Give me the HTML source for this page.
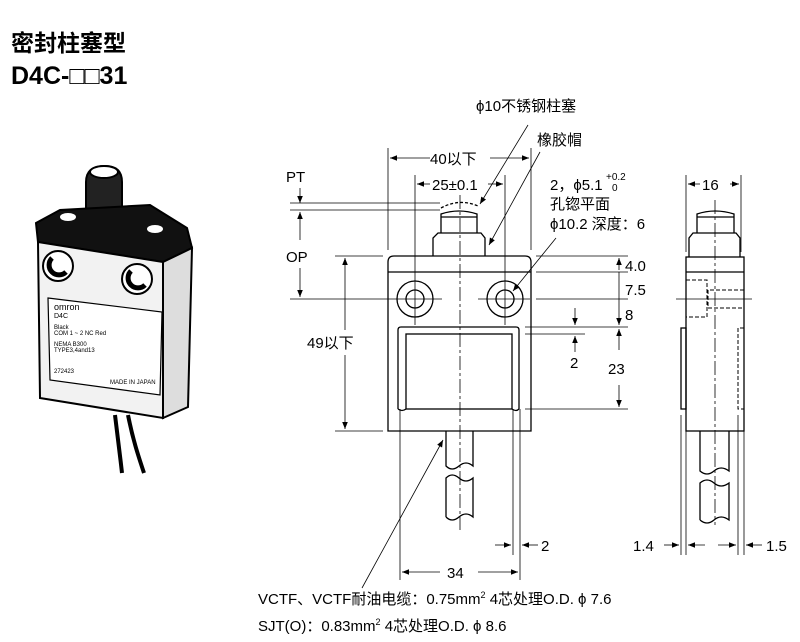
<!DOCTYPE html>
<html><head><meta charset="utf-8"><style>
html,body{margin:0;padding:0;background:#fff;}
svg{display:block;font-family:"Liberation Sans","Noto Sans CJK SC",sans-serif;}
</style></head><body>
<svg width="800" height="642" viewBox="0 0 800 642" xmlns="http://www.w3.org/2000/svg">
<defs>
<marker id="a" viewBox="0 0 10 10" refX="10" refY="5" markerWidth="9" markerHeight="7" orient="auto-start-reverse" markerUnits="userSpaceOnUse"><path d="M0,1 L10,5 L0,9 z" fill="#000"/></marker>
</defs>
<text x="11" y="51" font-size="23" font-weight="bold">密封柱塞型</text>
<text x="11" y="84" font-size="25" font-weight="bold">D4C-□□31</text>

<!-- photo -->
<g stroke="#000" stroke-width="2">
<path d="M115 415 C118 440 120 455 122 473" fill="none" stroke-width="4"/>
<path d="M128 415 C133 440 138 455 144 473" fill="none" stroke-width="4"/>
<path d="M86 182 Q86 166 105 166 Q122 166 122 182 L122 210 L86 210 Z" fill="#222"/>
<ellipse cx="104" cy="172" rx="14" ry="6" fill="#fff"/>
<path d="M36 223 L60 210 L150 205 L187 228 L192 248 L163 262 L38 242 Z" fill="#111"/>
<ellipse cx="68" cy="217" rx="8" ry="4" fill="#fff" stroke="none"/>
<ellipse cx="155" cy="229" rx="8" ry="4" fill="#fff" stroke="none"/>
<path d="M163 262 L192 248 L188 407 L163 418 Z" fill="#ddd"/>
<path d="M38 242 L163 262 L163 418 L40 398 Z" fill="#f2f2f2"/>
<circle cx="58" cy="266" r="15" fill="#fff"/><path d="M52 258 A9 9 0 1 0 66 272" fill="none" stroke-width="5"/>
<circle cx="137" cy="279" r="15" fill="#fff"/><path d="M131 271 A9 9 0 1 0 145 285" fill="none" stroke-width="5"/>
<path d="M48 298 L162 312 L160 395 L50 380 Z" fill="#fff" stroke-width="1.2"/>
</g>
<g font-size="6">
<text x="54" y="310" font-size="9">omron</text>
<text x="54" y="318" font-size="7">D4C</text>
<text x="54" y="329">Black</text>
<text x="54" y="335">COM 1 ~ 2 NC Red</text>
<text x="54" y="346">NEMA B300</text>
<text x="54" y="352">TYPE3,4and13</text>
<text x="54" y="373">272423</text>
<text x="110" y="384">MADE IN JAPAN</text>
</g>

<g stroke="#000" stroke-width="1.3" fill="none">
<path d="M388 431 L388 262 Q388 256 394 256 L525 256 Q531 256 531 262 L531 431 Z"/>
<line x1="388" y1="272" x2="531" y2="272"/>
<circle cx="415" cy="299" r="18"/><circle cx="415" cy="299" r="9"/>
<circle cx="505" cy="299" r="18"/><circle cx="505" cy="299" r="9"/>
<path d="M398 409 L398 330 Q398 327 401 327 L516 327 Q519 327 519 330 L519 409"/>
<rect x="406" y="334" width="106" height="75"/>
<path d="M398 409 Q402 412 406 409 M512 409 Q516 412 519 409"/>
<path d="M433 256 L433 238 L438 233 L481 233 L485 238 L485 256"/>
<path d="M441 233 L441 214 Q459 208 477 214 L477 233"/>
<path d="M441 217 L477 217"/>
<path d="M441 208 Q459 198 478 206" stroke-dasharray="3,2"/>
<path d="M446 431 L446 466 Q452 472 459 466 Q466 460 473 466 L473 431"/>
<path d="M446 517 L446 478 Q452 472 459 478 Q466 484 473 478 L473 517 Q466 511 459 517 Q452 523 446 517"/>
</g>
<g stroke="#000" stroke-width="0.8" fill="none">
<line x1="460" y1="195" x2="460" y2="530" stroke-dasharray="14,3,3,3"/>
<line x1="388" y1="148" x2="388" y2="250"/><line x1="531" y1="148" x2="531" y2="250"/>
<line x1="390" y1="158" x2="430" y2="158" marker-start="url(#a)"/>
<line x1="490" y1="158" x2="529" y2="158" marker-end="url(#a)"/>
<line x1="415" y1="175" x2="415" y2="325"/><line x1="505" y1="175" x2="505" y2="325"/>
<line x1="417" y1="184" x2="430" y2="184" marker-start="url(#a)"/>
<line x1="488" y1="184" x2="503" y2="184" marker-end="url(#a)"/>
<line x1="290" y1="203" x2="440" y2="203"/><line x1="290" y1="210" x2="440" y2="210"/>
<line x1="300" y1="188" x2="300" y2="203" marker-end="url(#a)"/>
<line x1="300" y1="212" x2="300" y2="240" marker-start="url(#a)"/>
<line x1="300" y1="268" x2="300" y2="297" marker-end="url(#a)"/>
<line x1="290" y1="299" x2="442" y2="299"/><line x1="478" y1="299" x2="530" y2="299"/>
<line x1="335" y1="256" x2="383" y2="256"/><line x1="335" y1="431" x2="383" y2="431"/>
<line x1="345" y1="258" x2="345" y2="330" marker-start="url(#a)"/>
<line x1="345" y1="355" x2="345" y2="429" marker-end="url(#a)"/>
<line x1="536" y1="256" x2="628" y2="256"/><line x1="536" y1="272" x2="628" y2="272"/>
<line x1="536" y1="299" x2="628" y2="299"/><line x1="525" y1="327" x2="628" y2="327"/>
<line x1="525" y1="409" x2="628" y2="409"/>
<line x1="619" y1="270" x2="619" y2="258" marker-end="url(#a)"/>
<line x1="619" y1="272" x2="619" y2="325" marker-end="url(#a)"/>
<line x1="619" y1="329" x2="619" y2="350" marker-start="url(#a)"/>
<line x1="619" y1="385" x2="619" y2="407" marker-end="url(#a)"/>
<line x1="525" y1="334" x2="585" y2="334"/>
<line x1="575" y1="308" x2="575" y2="325" marker-end="url(#a)"/>
<line x1="575" y1="352" x2="575" y2="336" marker-end="url(#a)"/>
<line x1="400" y1="409" x2="400" y2="580"/><line x1="513" y1="409" x2="513" y2="555"/><line x1="520" y1="409" x2="520" y2="580"/>
<line x1="402" y1="572" x2="440" y2="572" marker-start="url(#a)"/>
<line x1="478" y1="572" x2="518" y2="572" marker-end="url(#a)"/>
<line x1="495" y1="545" x2="511" y2="545" marker-end="url(#a)"/>
<line x1="538" y1="545" x2="522" y2="545" marker-end="url(#a)"/>
<line x1="528" y1="125" x2="480" y2="204" marker-end="url(#a)"/>
<line x1="540" y1="152" x2="489" y2="245" marker-end="url(#a)"/>
<line x1="556" y1="238" x2="513" y2="291" marker-end="url(#a)"/>
<line x1="362" y1="588" x2="443" y2="440" marker-end="url(#a)"/>
</g>

<g stroke="#000" stroke-width="1.3" fill="none">
<rect x="686" y="257" width="58" height="174"/>
<line x1="686" y1="272" x2="744" y2="272"/>
<path d="M689 257 L689 238 L693 233 L736 233 L740 238 L740 257"/>
<path d="M697 233 L697 214 Q715 208 734 214 L734 233"/>
<line x1="697" y1="217" x2="734" y2="217"/>
<rect x="681" y="328" width="5" height="81"/>
<path d="M700 431 L700 471 Q707 477 714 471 Q721 465 729 471 L729 431"/>
<path d="M700 520 L700 483 Q707 477 714 483 Q721 489 729 483 L729 520 Q721 514 714 520 Q707 526 700 520"/>
</g>
<g stroke="#000" stroke-width="1" fill="none" stroke-dasharray="4,2">
<path d="M686 280 L707 280 L707 317 L686 317"/>
<path d="M744 290 L708 290 L708 308 L744 308"/>
<path d="M744 328 L738 328 L738 409 L744 409"/>
</g>
<g stroke="#000" stroke-width="0.8" fill="none">
<line x1="715" y1="200" x2="715" y2="525" stroke-dasharray="14,3,3,3"/>
<line x1="676" y1="299" x2="752" y2="299"/>
<line x1="686" y1="175" x2="686" y2="252"/><line x1="741" y1="175" x2="741" y2="252"/>
<line x1="688" y1="184" x2="700" y2="184" marker-start="url(#a)"/>
<line x1="730" y1="184" x2="739" y2="184" marker-end="url(#a)"/>
<line x1="681" y1="415" x2="681" y2="555"/><line x1="686" y1="431" x2="686" y2="555"/>
<line x1="738" y1="415" x2="738" y2="555"/><line x1="744" y1="431" x2="744" y2="555"/>
<line x1="664" y1="545" x2="679" y2="545" marker-end="url(#a)"/>
<line x1="705" y1="545" x2="688" y2="545" marker-end="url(#a)"/>
<line x1="718" y1="545" x2="736" y2="545" marker-end="url(#a)"/>
<line x1="762" y1="545" x2="746" y2="545" marker-end="url(#a)"/>
</g>

<g font-size="15">
<text x="476" y="111">ϕ10不锈钢柱塞</text>
<text x="537" y="145">橡胶帽</text>
<text x="430" y="164">40以下</text>
<text x="432" y="190">25±0.1</text>
<text x="286" y="182">PT</text>
<text x="286" y="262">OP</text>
<text x="307" y="348">49以下</text>
<text x="550" y="190">2，ϕ5.1</text><text x="606" y="180" font-size="10">+0.2</text><text x="612" y="191" font-size="10">0</text>
<text x="550" y="209">孔锪平面</text>
<text x="550" y="229">ϕ10.2 深度：6</text>
<text x="625" y="271">4.0</text>
<text x="625" y="295">7.5</text>
<text x="625" y="320">8</text>
<text x="608" y="374">23</text>
<text x="570" y="368">2</text>
<text x="702" y="190">16</text>
<text x="447" y="578">34</text>
<text x="541" y="551">2</text>
<text x="633" y="551">1.4</text>
<text x="766" y="551">1.5</text>
<text x="258" y="604">VCTF、VCTF耐油电缆：0.75mm<tspan font-size="9" dy="-6">2</tspan><tspan dy="6"> 4芯处理O.D. ϕ 7.6</tspan></text>
<text x="258" y="631">SJT(O)：0.83mm<tspan font-size="9" dy="-6">2</tspan><tspan dy="6"> 4芯处理O.D. ϕ 8.6</tspan></text>
</g>
</svg>
</body></html>
